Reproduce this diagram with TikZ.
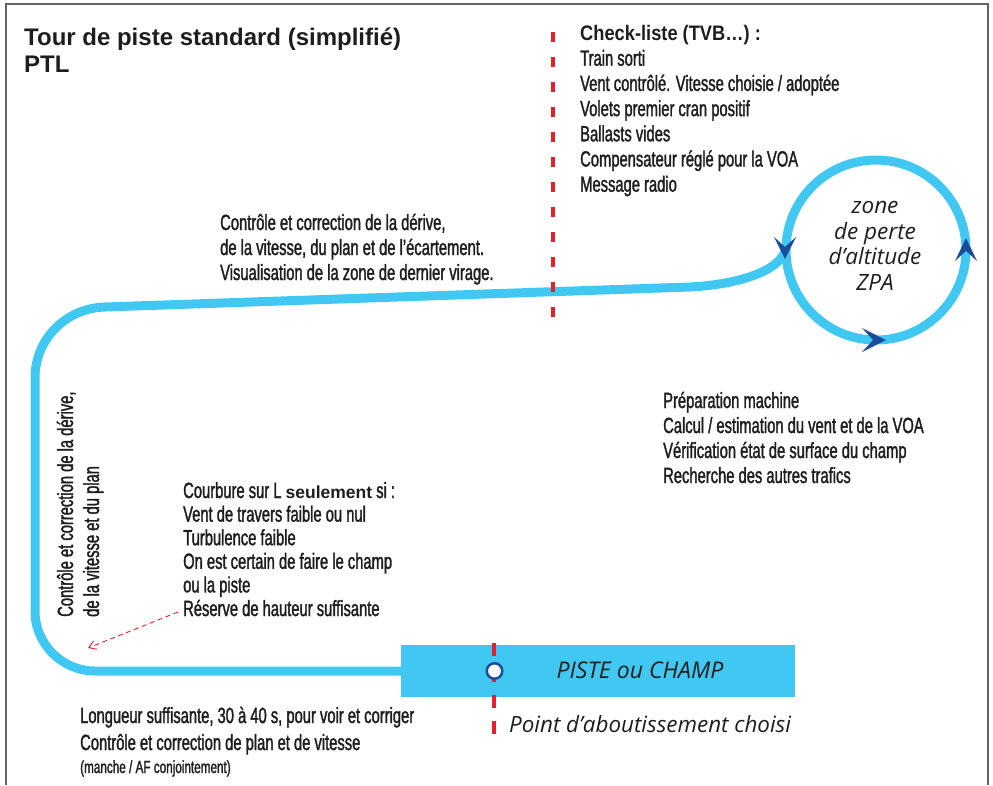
\documentclass[tikz,border=0pt]{standalone}
\usepackage{fontspec}
\setmainfont{Liberation Sans}
\newfontfamily\cond[FakeStretch=0.67,FakeBold=1.5]{Liberation Sans}
\newfontfamily\condb[FakeStretch=0.87]{Liberation Sans}
\newfontfamily\plainsans{Liberation Sans}
\newfontfamily\hum{Open Sans}
\usetikzlibrary{arrows.meta}
\definecolor{track}{RGB}{64,200,242}
\definecolor{navy}{RGB}{26,76,156}
\definecolor{rred}{RGB}{228,32,42}
\definecolor{framegray}{RGB}{100,100,100}
\definecolor{ink}{RGB}{30,30,30}
\begin{document}
\begin{tikzpicture}[x=1pt,y=-1pt,
  txt/.style={anchor=base west, inner sep=0pt, text=ink, font=\cond\fontsize{22}{25}\selectfont},
  small/.style={txt, font=\cond\fontsize{17.5}{20}\selectfont},
  ital/.style={inner sep=0pt, text=ink, font=\hum\itshape\fontsize{22.4}{25}\selectfont},
  zonetxt/.style={ital, anchor=base, font=\hum\itshape\fontsize{22.5}{25}\selectfont},
  ttl/.style={anchor=base west, inner sep=0pt, text=ink, font=\bfseries\fontsize{24}{30}\selectfont},
  trk/.style={draw=track, line width=9pt},
  reddash/.style={draw=rred, line width=4pt, dash pattern=on 10pt off 15pt},
  head/.style={fill=navy}]
\useasboundingbox (0,0) rectangle (993,785);
% frame
\draw[framegray, line width=2pt] (6,785) -- (6,4) -- (988,4) -- (988,785);

% titles
\node[ttl] (title) at (24,45) {Tour de piste standard (simplifié)};
\node[ttl] (ptl) at (24,72) {PTL};

% check list
\node[anchor=base west, inner sep=0pt, text=ink, font=\condb\bfseries\fontsize{21}{25}\selectfont] (ck) at (580,40.7) {Check-liste (TVB…) :};
\node[txt] (ck1) at (580,65.7) {Train sorti};
\node[txt] (ck2) at (580,90.9) {Vent contrôlé. Vitesse choisie / adoptée};
\node[txt] (ck3) at (580,116.1) {Volets premier cran positif};
\node[txt] (ck4) at (580,141.3) {Ballasts vides};
\node[txt] (ck5) at (580,166.5) {Compensateur réglé pour la VOA};
\node[txt] (ck6) at (580,191.7) {Message radio};

% upwind leg text
\node[txt] (u1) at (220,230) {Contrôle et correction de la dérive,};
\node[txt] (u2) at (220,255) {de la vitesse, du plan et de l’écartement.};
\node[txt] (u3) at (220,280) {Visualisation de la zone de dernier virage.};

% right block
\node[txt] (r1) at (663,408) {Préparation machine};
\node[txt] (r2) at (663,433) {Calcul / estimation du vent et de la VOA};
\node[txt] (r3) at (663,458) {Vérification état de surface du champ};
\node[txt] (r4) at (663,483) {Recherche des autres trafics};

% courbure block
\node[txt] (c1) at (183,498) {Courbure sur L {\plainsans\bfseries\fontsize{17.5}{25}\selectfont seulement} si :};
\node[txt] (c2) at (183,521.6) {Vent de travers faible ou nul};
\node[txt] (c3) at (183,545.2) {Turbulence faible};
\node[txt] (c4) at (183,568.8) {On est certain de faire le champ};
\node[txt] (c5) at (183,592.4) {ou la piste};
\node[txt] (c6) at (183,616) {Réserve de hauteur suffisante};

% vertical text
\node[txt, rotate=90] (v1) at (73,617) {Contrôle et correction de la dérive,};
\node[txt, rotate=90] (v2) at (99,617) {de la vitesse et du plan};

% bottom block
\node[txt] (b1) at (80,723) {Longueur suffisante, 30 à 40 s, pour voir et corriger};
\node[txt] (b2) at (80,750) {Contrôle et correction de plan et de vitesse};
\node[small] (b3) at (80,773) {(manche / AF conjointement)};

% track
\coordinate (p0) at (401,671);
\coordinate (cBL) at (35,611);
\coordinate (cTL) at (105,307);
\coordinate (jn) at (786,245);
\draw[trk] (p0) -- (95,671) .. controls (62,671) and (35,644) .. (cBL) -- (35,378) .. controls (35,339) and (66,308) .. (cTL) -- (690,287) .. controls (745,284) and (786,268) .. (jn);
\coordinate (zc) at (876,250);
\draw[trk] (zc) circle[radius=90];
% arrow heads
\fill[head] (785,259) -- (774,237) -- (785,247) -- (796,237) -- cycle;
\fill[head] (966,238) -- (977,261) -- (966,251) -- (955,261) -- cycle;
\fill[head] (886,340) -- (862,352) -- (873,340) -- (862,328) -- cycle;

% zone text
\node[zonetxt] (z1) at (875,213) {zone};
\node[zonetxt] (z2) at (875,239) {de perte};
\node[zonetxt] (z3) at (875,264) {d’altitude};
\node[zonetxt] (z4) at (875,290) {ZPA};

% red dashed line (top)
\draw[reddash] (553,31.7) -- (553,320);

% runway
\fill[track] (401,645) rectangle (795,697);
\node[ital, anchor=base, font=\hum\itshape\fontsize{23}{25}\selectfont] (piste) at (640,678) {PISTE ou CHAMP};
\draw[draw=rred, line width=4pt, dash pattern=on 13pt off 13pt] (494,643) -- (494,736);
\node[circle, draw=navy, fill=white, line width=2.5pt, minimum size=15.5pt, inner sep=0pt] (aim) at (494.5,671) {};
\node[ital, anchor=base west] (pt) at (509,732) {Point d’aboutissement choisi};

% red dashed arrow
\coordinate (arrS) at (178,612);
\coordinate (arrE) at (88,648);
\draw[rred, line width=0.9pt, dash pattern=on 5pt off 3.5pt, -{Straight Barb[length=7pt,width=9pt]}] (arrS) -- (arrE);
\end{tikzpicture}
\end{document}
